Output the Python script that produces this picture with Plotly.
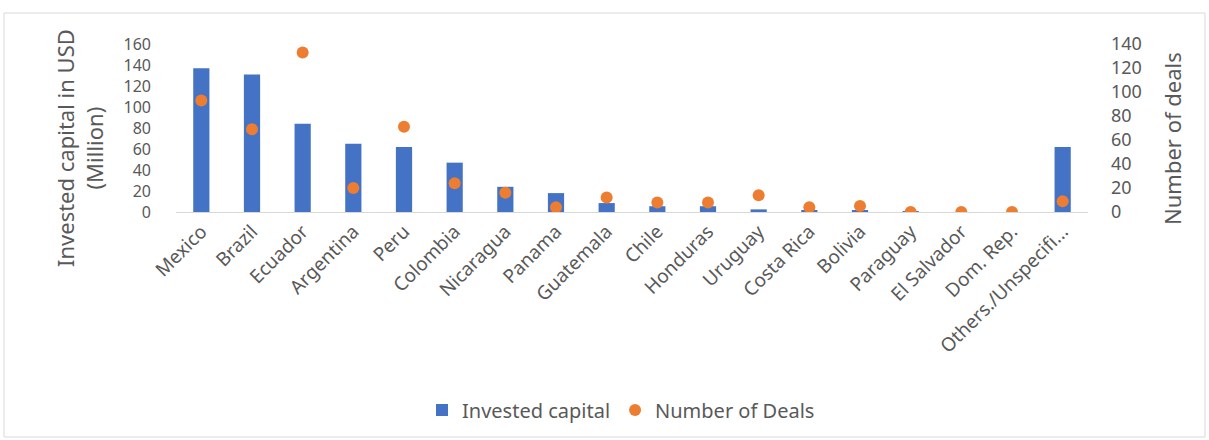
import plotly.graph_objects as go

# Invested capital (USD million) and number of deals per country
countries = ["Mexico", "Brazil", "Ecuador", "Argentina", "Peru", "Colombia",
             "Nicaragua", "Panama", "Guatemala", "Chile", "Honduras", "Uruguay",
             "Costa Rica", "Bolivia", "Paraguay", "El Salvador", "Dom. Rep.",
             "Others./Unspecifi..."]
invested_capital = [137, 131, 84, 65, 62, 47, 24, 18, 8.5, 5.5, 5.5, 2.5,
                    1, 1, 0.5, 0, 0, 62]
number_of_deals = [93, 69, 133, 20, 71, 24, 16, 4, 12, 8, 8, 14,
                   4, 5, 0, 0, 0, 9]

left_ticks = list(range(0, 161, 20))
right_ticks = list(range(0, 141, 20))

W, H = 1209, 440
ML, MR, MT, MB = 176, 121, 44, 228
pw, ph = W - ML - MR, H - MT - MB


def px_x(x):
    return (x - ML) / pw


def px_y(y):
    return (H - MB - y) / ph


grey = "#595959"
font_family = "Noto Sans, Open Sans, sans-serif"

fig = go.Figure()
fig.add_trace(go.Bar(
    x=countries, y=invested_capital, name="Invested capital",
    marker=dict(color="#4472C4", line=dict(width=0)), width=0.32,
    yaxis="y",
))
fig.add_trace(go.Scatter(
    x=countries, y=number_of_deals, name="Number of Deals",
    mode="markers", marker=dict(color="#ED7D31", size=12), yaxis="y2",
))

fig.update_layout(
    width=W, height=H,
    margin=dict(l=ML, r=MR, t=MT, b=MB, autoexpand=False),
    paper_bgcolor="white", plot_bgcolor="white",
    font=dict(family=font_family, color=grey, size=18),
    xaxis=dict(
        tickangle=-45, showgrid=False, showline=True, linecolor="#d9d9d9",
        linewidth=1, ticks="", tickfont=dict(size=19, color=grey),
        range=[-0.5, len(countries) - 0.5],
    ),
    yaxis=dict(
        range=[0, 160], tickvals=left_ticks, showgrid=False, zeroline=False,
        showline=False, tickfont=dict(size=16, color=grey),
        ticklabelstandoff=24,
    ),
    yaxis2=dict(
        range=[0, 140], tickvals=right_ticks, overlaying="y", side="right",
        showgrid=False, zeroline=False, showline=False,
        tickfont=dict(size=18, color=grey), ticklabelstandoff=22,
    ),
    legend=dict(
        orientation="h", x=px_x(621), xanchor="center", y=px_y(410),
        yanchor="middle", font=dict(size=20, color=grey),
        itemwidth=30, tracegroupgap=0,
    ),
    annotations=[
        dict(text="Invested capital in USD<br>(Million)", xref="paper",
             yref="paper", x=px_x(79), y=px_y(148), textangle=-90,
             showarrow=False, font=dict(size=22, color=grey),
             xanchor="center", yanchor="middle"),
        dict(text="Number of deals", xref="paper", yref="paper",
             x=px_x(1172), y=px_y(139), textangle=-90, showarrow=False,
             font=dict(size=22, color=grey), xanchor="center",
             yanchor="middle"),
    ],
    shapes=[
        dict(type="rect", xref="paper", yref="paper",
             x0=px_x(4), x1=px_x(1205), y0=px_y(437), y1=px_y(13),
             line=dict(color="#d9d9d9", width=1), layer="below"),
    ],
)

fig.write_html("out.html")
